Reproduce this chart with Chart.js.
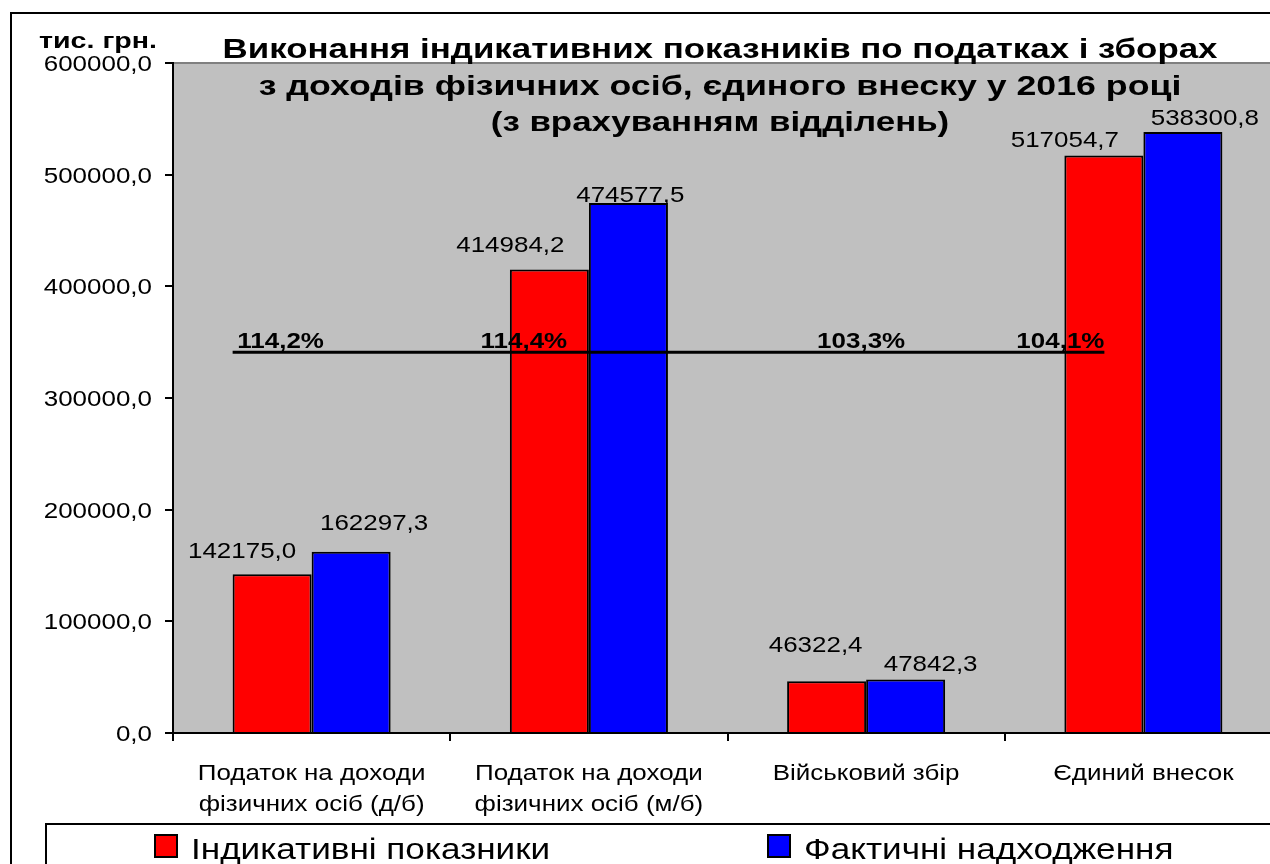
<!DOCTYPE html>
<html>
<head>
<meta charset="utf-8">
<script src="https://cdn.jsdelivr.net/npm/chart.js@4"></script>
<style>
  html, body { margin: 0; padding: 0; background: #fff; overflow: hidden; }
  #wrap { position: relative; width: 1300px; height: 864px; }
</style>
</head>
<body>
<div id="wrap"><canvas id="myChart"></canvas></div>
<script>
// data
const categories = [
    ['Податок на доходи', 'фізичних осіб (д/б)'],
    ['Податок на доходи', 'фізичних осіб (м/б)'],
    ['Військовий збір'],
    ['Єдиний внесок']
];
const indicative = [142175.0, 414984.2, 46322.4, 517054.7];
const actual = [162297.3, 474577.5, 47842.3, 538300.8];
const completion = ['114,2%', '114,4%', '103,3%', '104,1%'];
const seriesNames = ['Індикативні показники', 'Фактичні надходження'];
const titleLines = [
    'Виконання індикативних показників по податках і зборах',
    'з доходів фізичних осіб, єдиного внеску у 2016 році',
    '(з врахуванням відділень)'
];
const unitLabel = 'тис. грн.';
const yMin = 0, yMax = 600000, yStep = 100000;

const FONT = '"Liberation Sans", Arial, sans-serif';

// the original text is stretched sideways, so draw it with a horizontal scale
function txt(ctx, s, x, y, font, align, sx) {
    ctx.save();
    ctx.font = font;
    ctx.fillStyle = '#000';
    ctx.textAlign = align || 'center';
    ctx.textBaseline = 'alphabetic';
    ctx.translate(x, y);
    ctx.scale(sx || 1.18, 1);
    ctx.fillText(s, 0, 0);
    ctx.restore();
}

const fmt = v => v.toFixed(1).replace('.', ',');

const backPlugin = {
    id: 'back',
    beforeDraw(chart) {
        const ctx = chart.ctx;
        const a = chart.chartArea;
        ctx.save();
        ctx.fillStyle = '#fff';
        ctx.fillRect(0, 0, chart.width, chart.height);
        ctx.strokeStyle = '#000';
        ctx.lineWidth = 2;
        ctx.strokeRect(11, 13, 1400, 1000);
        ctx.fillStyle = '#C0C0C0';
        ctx.fillRect(a.left, a.top, a.right - a.left, a.bottom - a.top);
        ctx.strokeStyle = '#808080';
        ctx.beginPath();
        ctx.moveTo(a.left, a.top);
        ctx.lineTo(a.right, a.top);
        ctx.lineTo(a.right, a.bottom);
        ctx.stroke();
        ctx.restore();
    }
};

// label offsets (dx from bar centre, gap above bar top) as placed in the original
const labelDx = [[-30, -39, -11, -39], [23, 2, 25, 22]];
const labelGap = [[16, 18, 29, 9], [22, 1, 9, 7]];

const textPlugin = {
    id: 'texts',
    afterDatasetsDraw(chart) {
        const ctx = chart.ctx;
        const x = chart.scales.x;
        const y = chart.scales.y;

        // value labels
        chart.data.datasets.forEach((ds, di) => {
            chart.getDatasetMeta(di).data.forEach((bar, i) => {
                txt(ctx, fmt(ds.data[i]), bar.x + labelDx[di][i], bar.y - labelGap[di][i], '22px ' + FONT);
            });
        });

        // completion line and percentages
        const ly = y.getPixelForValue(341000);
        ctx.save();
        ctx.strokeStyle = '#000';
        ctx.lineWidth = 3;
        ctx.beginPath();
        ctx.moveTo(x.getPixelForValue(0) - 79, ly);
        ctx.lineTo(x.getPixelForValue(3) - 39, ly);
        ctx.stroke();
        ctx.restore();
        const pctDx = [-31, -65, -5, -83];
        completion.forEach((p, i) => {
            txt(ctx, p, x.getPixelForValue(i) + pctDx[i], ly - 4, 'bold 22px ' + FONT);
        });

        // y tick labels
        y.ticks.forEach((t, i) => {
            txt(ctx, fmt(t.value), y.right - 21, y.getPixelForTick(i) + 8, '22px ' + FONT, 'right');
        });

        // category labels
        categories.forEach((lines, i) => {
            const cx = x.getPixelForValue(i);
            lines.forEach((l, k) => {
                txt(ctx, l, cx, 780 + k * 31, '22px ' + FONT);
            });
        });

        // title and unit
        titleLines.forEach((l, k) => {
            txt(ctx, l, 720, 58 + k * 36.5, 'bold 28px ' + FONT, 'center', k === 1 ? 1.275 : 1.245);
        });
        txt(ctx, unitLabel, 98, 48, 'bold 22px ' + FONT, 'center', 1.3);

        // legend
        ctx.save();
        ctx.strokeStyle = '#000';
        ctx.lineWidth = 2;
        ctx.strokeRect(46, 824, 1400, 100);
        const lx = [155, 768];
        chart.data.datasets.forEach((ds, di) => {
            ctx.fillStyle = ds.backgroundColor;
            ctx.fillRect(lx[di], 835, 22, 22);
            ctx.strokeStyle = '#000';
            ctx.lineWidth = 2;
            ctx.strokeRect(lx[di], 835, 22, 22);
            txt(ctx, ds.label, lx[di] + 36, 859, '30px ' + FONT, 'left', 1.17);
        });
        ctx.restore();
    }
};

new Chart(document.getElementById('myChart'), {
    type: 'bar',
    data: {
        labels: categories,
        datasets: [{
            label: seriesNames[0],
            data: indicative,
            backgroundColor: '#FF0000',
            borderColor: '#000',
            borderWidth: 2,
            categoryPercentage: 0.57,
            barPercentage: 1.0
        }, {
            label: seriesNames[1],
            data: actual,
            backgroundColor: '#0000FF',
            borderColor: '#000',
            borderWidth: 2,
            categoryPercentage: 0.57,
            barPercentage: 1.0
        }]
    },
    options: {
        responsive: true,
        maintainAspectRatio: false,
        animation: false,
        layout: { padding: { left: 0, top: 63, right: 18, bottom: 0 } },
        plugins: {
            legend: { display: false },
            title: { display: false },
            tooltip: { enabled: false }
        },
        scales: {
            x: {
                offset: true,
                grid: { offset: true, drawOnChartArea: false, color: '#000', lineWidth: 2, tickLength: 8 },
                border: { color: '#000', width: 2 },
                ticks: { display: false },
                afterFit: s => { s.height = 131; }
            },
            y: {
                min: yMin,
                max: yMax,
                ticks: { display: false, stepSize: yStep },
                grid: { drawOnChartArea: false, color: '#000', lineWidth: 2, tickLength: 8 },
                border: { color: '#000', width: 2 },
                afterFit: s => { s.width = 173; }
            }
        }
    },
    plugins: [backPlugin, textPlugin]
});
</script>
</body>
</html>
